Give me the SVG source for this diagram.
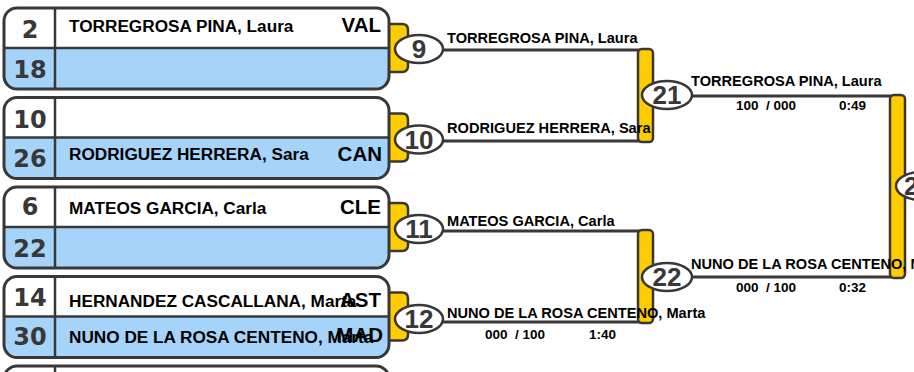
<svg xmlns="http://www.w3.org/2000/svg" xmlns:xlink="http://www.w3.org/1999/xlink" width="914" height="372" viewBox="0 0 914 372">
<style>
.frame{fill:none;stroke:#383838;stroke-width:3}
.div{stroke:#383838;stroke-width:2.5}
.tab{fill:#FFCC00;stroke:#383838;stroke-width:2.5}
.bar{fill:#FFCC00;stroke:#383838;stroke-width:2.5}
.conn{fill:none;stroke:#383838;stroke-width:3}
.ell{fill:#ffffff;stroke:#383838;stroke-width:2.5}
.num{font-family:"DejaVu Sans",sans-serif;font-weight:bold;font-size:24px;fill:#383838;text-anchor:middle}
.mnum{font-family:"Liberation Sans",Arial,sans-serif;font-weight:bold;font-size:26px;fill:#383838;text-anchor:middle}
.name{font-family:"Liberation Sans",Arial,sans-serif;font-weight:bold;font-size:17.2px;fill:#000}
.club{font-family:"Liberation Sans",Arial,sans-serif;font-weight:bold;font-size:20.5px;fill:#000;text-anchor:end}
.lbl{font-family:"Liberation Sans",Arial,sans-serif;font-weight:bold;font-size:14.6px;fill:#000}
.score{font-family:"Liberation Sans",Arial,sans-serif;font-weight:bold;font-size:13.5px;fill:#000}
</style>
<defs>
<g id="boxFrame">
<path class="tab" d="M384,16 H402 Q408,16 408,22 V58 Q408,64 402,64 H384 Z"/>
<rect x="4" y="0" width="385" height="81" rx="13" fill="#ffffff"/>
<path d="M4,40 H389 V68 Q389,81 376,81 H17 Q4,81 4,68 Z" fill="#A6D3FA"/>
<line class="div" x1="4" y1="40" x2="389" y2="40"/>
<line class="div" x1="55" y1="0" x2="55" y2="81"/>
<rect class="frame" x="4" y="0" width="385" height="81" rx="13"/>
</g>
</defs>
<rect x="0" y="0" width="914" height="372" fill="#ffffff"/>

<g id="connectors">
<line class="conn" x1="440" y1="50" x2="640" y2="50"/>
<line class="conn" x1="440" y1="141" x2="640" y2="141"/>
<line class="conn" x1="440" y1="231" x2="640" y2="231"/>
<line class="conn" x1="440" y1="322" x2="640" y2="322"/>
<line class="conn" x1="690" y1="96" x2="892" y2="96"/>
<line class="conn" x1="690" y1="277" x2="892" y2="277"/>
<rect class="bar" x="638" y="49" width="15" height="93" rx="4"/>
<rect class="bar" x="638" y="230" width="15" height="93" rx="4"/>
<rect class="bar" x="890" y="95" width="15" height="183" rx="4"/>
</g>

<g id="entry1">
<use xlink:href="#boxFrame" href="#boxFrame" x="0" y="8"/>
<text class="num" x="30" y="38">2</text>
<text class="num" x="30" y="78">18</text>
<text class="name" x="69" y="32">TORREGROSA PINA, Laura</text>
<text class="club" x="381" y="32">VAL</text>
</g>
<g id="entry2">
<use xlink:href="#boxFrame" href="#boxFrame" x="0" y="97.5"/>
<text class="num" x="30" y="128">10</text>
<text class="num" x="30" y="167">26</text>
<text class="name" x="69" y="160">RODRIGUEZ HERRERA, Sara</text>
<text class="club" x="382" y="161">CAN</text>
</g>
<g id="entry3">
<use xlink:href="#boxFrame" href="#boxFrame" x="0" y="187"/>
<text class="num" x="30" y="215">6</text>
<text class="num" x="30" y="257">22</text>
<text class="name" x="69" y="214">MATEOS GARCIA, Carla</text>
<text class="club" x="381" y="214">CLE</text>
</g>
<g id="entry4">
<use xlink:href="#boxFrame" href="#boxFrame" x="0" y="276.5"/>
<text class="num" x="30" y="306">14</text>
<text class="num" x="30" y="345">30</text>
<text class="name" x="69" y="307">HERNANDEZ CASCALLANA, Marta</text>
<text class="club" x="381" y="307">AST</text>
<text class="name" x="69" y="343">NUNO DE LA ROSA CENTENO, Marta</text>
<text class="club" x="383" y="342">MAD</text>
</g>
<g id="entry5">
<use xlink:href="#boxFrame" href="#boxFrame" x="0" y="366"/>
</g>

<g id="match9">
<ellipse class="ell" cx="419" cy="49" rx="24" ry="14"/>
<text class="mnum" x="419" y="58">9</text>
<text class="lbl" x="447" y="43">TORREGROSA PINA, Laura</text>
</g>
<g id="match10">
<ellipse class="ell" cx="419" cy="139.5" rx="24" ry="14"/>
<text class="mnum" x="419" y="148.5">10</text>
<text class="lbl" x="447" y="133">RODRIGUEZ HERRERA, Sara</text>
</g>
<g id="match11">
<ellipse class="ell" cx="419" cy="229" rx="24" ry="14"/>
<text class="mnum" x="419" y="238">11</text>
<text class="lbl" x="447" y="226">MATEOS GARCIA, Carla</text>
</g>
<g id="match12">
<ellipse class="ell" cx="419" cy="319" rx="24" ry="14"/>
<text class="mnum" x="419" y="328">12</text>
<text class="lbl" x="447" y="318">NUNO DE LA ROSA CENTENO, Marta</text>
<text class="score" x="485" y="339" xml:space="preserve">000  / 100</text>
<text class="score" x="589" y="339">1:40</text>
</g>
<g id="match21">
<ellipse class="ell" cx="667" cy="95" rx="25" ry="14"/>
<text class="mnum" x="667" y="104">21</text>
<text class="lbl" x="691" y="86">TORREGROSA PINA, Laura</text>
<text class="score" x="736" y="110" xml:space="preserve">100  / 000</text>
<text class="score" x="839" y="110">0:49</text>
</g>
<g id="match22">
<ellipse class="ell" cx="667" cy="277" rx="25" ry="14"/>
<text class="mnum" x="667" y="286">22</text>
<text class="lbl" x="691" y="269">NUNO DE LA ROSA CENTENO, Marta</text>
<text class="score" x="736" y="292" xml:space="preserve">000  / 100</text>
<text class="score" x="839" y="292">0:32</text>
</g>
<g id="match23">
<ellipse class="ell" cx="921" cy="186" rx="25" ry="14"/>
<text class="mnum" x="904" y="195" style="text-anchor:start">2</text>
</g>
</svg>
